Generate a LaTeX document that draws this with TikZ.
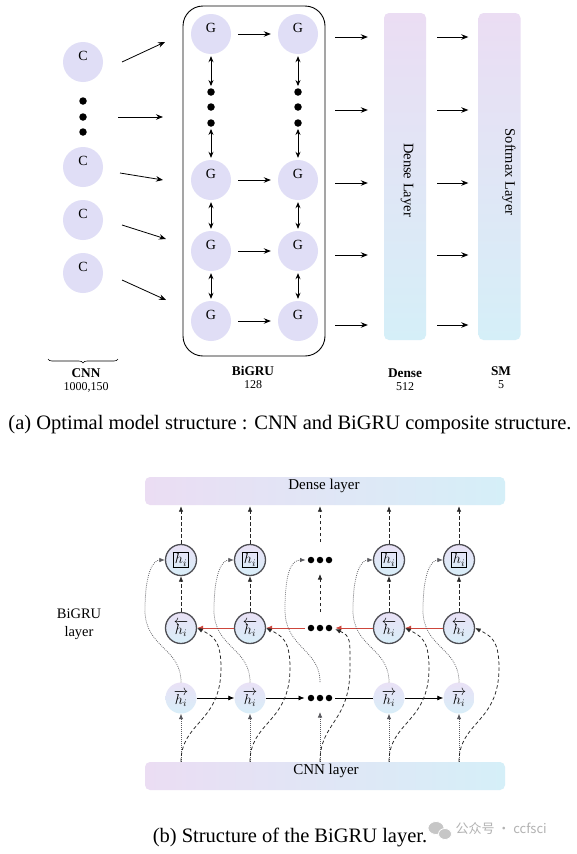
\documentclass[tikz,border=0pt]{standalone}
\usepackage{fontspec}
\setmainfont{Liberation Serif}
\newfontfamily\cjkfont{Noto Sans CJK SC}
\usetikzlibrary{arrows.meta,decorations.pathreplacing,calc}
\definecolor{nodefill}{RGB}{224,222,246}
\definecolor{barTop}{RGB}{235,221,243}
\definecolor{barBot}{RGB}{213,239,248}
\definecolor{nTop}{RGB}{233,225,246}
\definecolor{nBot}{RGB}{216,238,248}
\definecolor{ring}{RGB}{78,78,84}
\definecolor{redline}{RGB}{205,70,60}
\definecolor{curvegray}{RGB}{90,90,95}
\setlength{\fboxsep}{1.2pt}
\setlength{\fboxrule}{1.1pt}
\tikzset{
  cnode/.style={circle, fill=nodefill, minimum size=40pt, inner sep=0pt},
  nlab/.style={yshift=6pt, font=\fontsize{14}{16}\selectfont},
  bigdot/.style={circle, fill=black, minimum size=7.5pt, inner sep=0pt},
  arrA/.style={-{Stealth[length=7pt,width=5.5pt]}, line width=0.8pt},
  darrA/.style={{Stealth[length=6pt,width=5pt]}-{Stealth[length=6pt,width=5pt]}, line width=0.8pt, shorten <=2pt, shorten >=2pt},
  vbar/.style={rounded corners=5pt, top color=barTop, bottom color=barBot, minimum width=42pt, minimum height=327pt, inner sep=0pt},
  hbar/.style={rounded corners=5pt, left color=barTop, right color=barBot, minimum width=360pt, minimum height=28pt, inner sep=0pt},
  boldlab/.style={font=\bfseries\fontsize{13.3}{15}\selectfont},
  numlab/.style={font=\fontsize{12}{14}\selectfont},
  captxt/.style={font=\fontsize{20.5}{24}\selectfont},
  ringnode/.style={circle, draw=ring, line width=1.3pt, top color=nTop, bottom color=nBot, minimum size=31pt, inner sep=0pt, font=\fontsize{14.4}{17}\selectfont},
  fwdnode/.style={circle, top color=nTop, bottom color=nBot, minimum size=31pt, inner sep=0pt, font=\fontsize{14.4}{17}\selectfont},
  smalldot/.style={circle, fill=black, minimum size=6.5pt, inner sep=0pt},
  dashB/.style={-{Latex[length=5.5pt,width=4.5pt]}, dash pattern=on 3.5pt off 2.5pt, line width=0.75pt, draw=black!85},
  dotB/.style={-{Latex[length=5.5pt,width=4.5pt]}, dash pattern=on 0.8pt off 1.2pt, line width=0.75pt, draw=curvegray},
  fwdB/.style={-{Latex[length=6pt,width=5pt]}, line width=0.8pt},
  redB/.style={-{Latex[length=6pt,width=5pt]}, line width=0.8pt, draw=redline},
  bodytxt/.style={font=\fontsize{15}{17}\selectfont}
}
\begin{document}
\begin{tikzpicture}[x=1pt,y=-1pt]
\useasboundingbox (0,0) rectangle (577,854);
\fill[white] (0,0) rectangle (577,854);

% ================= part (a) =================
\node[draw, line width=0.9pt, rounded corners=20pt, minimum width=142pt, minimum height=350pt, inner sep=0pt] (bgru) at (254,181) {};

\foreach \n/\y in {c1/62,c2/167,c3/220,c4/273}
  \node[cnode, label={[nlab]center:C}] (\n) at (83,\y) {};
\foreach \n/\y in {cd1/101,cd2/117,cd3/132}
  \node[bigdot] (\n) at (83,\y) {};

\foreach \c/\x in {1/211,2/298} {
  \foreach \r/\y in {1/34,3/180,4/251,5/321}
    \node[cnode, label={[nlab]center:G}] (g\c\r) at (\x,\y) {};
  \foreach \d/\y in {1/92,2/107,3/123}
    \node[bigdot] (gd\c\d) at (\x,\y) {};
}
\foreach \c in {1,2} {
  \draw[darrA] (g\c1) -- (gd\c1);
  \draw[darrA] (gd\c3) -- (g\c3);
  \draw[darrA] (g\c3) -- (g\c4);
  \draw[darrA] (g\c4) -- (g\c5);
}
\foreach \r in {1,3,4,5}
  \draw[arrA, shorten <=7pt, shorten >=7pt] (g1\r) -- (g2\r);

\node[vbar] (dense) at (405,176.5) {};
\node[vbar] (sm) at (499.5,176.5) {};
\node[rotate=-90, font=\fontsize{14.5}{16}\selectfont] at (407,180) {Dense Layer};
\node[rotate=-90, font=\fontsize{14.5}{16}\selectfont] at (509,172) {Softmax Layer};

\foreach \i/\y in {1/37,2/110,3/183,4/255,5/325} {
  \coordinate (row\i) at (0,\y);
  \draw[arrA, shorten <=10pt, shorten >=16pt] (bgru.east |- row\i) -- (dense.west |- row\i);
  \draw[arrA, shorten <=11pt, shorten >=10pt] (dense.east |- row\i) -- (sm.west |- row\i);
}

\foreach \i/\xa/\ya/\xb/\yb in {1/122/62/165/42, 2/118/117/163/117, 3/120/173/163/180, 4/122/225/166/239, 5/122/280/166/300} {
  \coordinate (cs\i) at (\xa,\ya);
  \coordinate (ce\i) at (\xb,\yb);
  \draw[arrA] (cs\i) -- (ce\i);
}

\coordinate (brL) at (48,359);
\coordinate (brR) at (118,359);
\draw[decorate, decoration={brace, mirror, amplitude=4pt}, line width=0.6pt] (brL) -- (brR);

\node[boldlab] (lcnn) at (86,373) {CNN};
\node[numlab] (ncnn) at (86,387) {1000,150};
\node[boldlab] (lbig) at (253,371) {BiGRU};
\node[numlab] (nbig) at (253,385) {128};
\node[boldlab] (lden) at (405,373) {Dense};
\node[numlab] (nden) at (405,387) {512};
\node[boldlab] (lsm) at (501,371) {SM};
\node[numlab] (nsm) at (501,385) {5};

\node[captxt] (capa) at (290,425) {(a) Optimal model structure : CNN and BiGRU composite structure.};

% ================= part (b) =================
\node[hbar] (dl) at (325,491) {};
\node[bodytxt] (dltxt) at (324,486) {Dense layer};
\node[hbar] (cl) at (325,776) {};
\node[bodytxt] (cltxt) at (326,771) {CNN layer};
\node[align=center, font=\fontsize{14.5}{18}\selectfont] (bglab) at (79,624) {BiGRU\\layer};

\foreach \i/\x in {1/181,2/250,4/389,5/459} {
  \node[ringnode] (t\i) at (\x,560) {\fbox{$h_i$}};
  \node[ringnode] (m\i) at (\x,628) {$\overleftarrow{h_i}$};
  \node[fwdnode] (f\i) at (\x,698) {$\overrightarrow{h_i}$};
}
\foreach \r/\y in {t/560,m/628,f/698} {
  \node[smalldot] (\r3a) at (311,\y) {};
  \node[smalldot] (\r3b) at (320,\y) {};
  \node[smalldot] (\r3c) at (329,\y) {};
}
\coordinate (t3up) at (320,542);
\coordinate (t3low) at (320,574);
\coordinate (m3up) at (320,612);
\coordinate (f3top) at (320,682);
\coordinate (f3low) at (320,712);

% to dense layer
\foreach \i in {1,2,4,5}
  \draw[dashB, shorten >=1pt] (t\i) -- (t\i |- dl.south);
\draw[dashB, shorten >=1pt] (t3up) -- (t3up |- dl.south);
% mid to top
\foreach \i in {1,2,4,5}
  \draw[dashB] (m\i) -- (t\i);
\draw[dashB] (m3up) -- (t3low);
% backward (red)
\draw[redB] (m5) -- (m4);
\draw[redB, shorten >=3pt] (m4) -- (m3c);
\draw[redB, shorten <=3pt] (m3a) -- (m2);
\draw[redB] (m2) -- (m1);
% forward
\draw[fwdB] (f1) -- (f2);
\draw[fwdB, shorten >=3pt] (f2) -- (f3a);
\draw[line width=0.8pt, shorten <=3pt] (f3c) -- (f4);
\draw[fwdB] (f4) -- (f5);

% CNN to forward nodes, and curves
\foreach \i in {1,2,4,5} {
  \draw[dotB] (f\i |- cl.north) -- (f\i);
  \draw[dashB] (f\i |- cl.north) .. controls ($(f\i |- cl.north)+(0,-40)$) and ($(f\i)+(40,25)$) .. ($(f\i)+(40,-30)$) .. controls ($(f\i)+(40,-58)$) and ($(m\i)+(32,8)$) .. (m\i.east);
  \draw[dotB] (f\i.north) .. controls ($(f\i.north)+(0,-35)$) and ($(f\i)+(-36,-50)$) .. ($(f\i)+(-36,-88)$) .. controls ($(f\i)+(-36,-125)$) and ($(t\i)+(-28,0)$) .. (t\i.west);
}
\draw[dotB] (f3low |- cl.north) -- (f3low);
\draw[dashB, shorten >=3pt] (f3low |- cl.north) .. controls ($(f3low |- cl.north)+(0,-40)$) and ($(f3b)+(30,25)$) .. ($(f3b)+(30,-30)$) .. controls ($(f3b)+(30,-58)$) and ($(m3c)+(22,8)$) .. (m3c.east);
\draw[dotB, shorten >=2pt] (f3top) .. controls ($(f3top)+(0,-33)$) and ($(f3b)+(-35,-50)$) .. ($(f3b)+(-35,-88)$) .. controls ($(f3b)+(-35,-125)$) and ($(t3a)+(-20,0)$) .. (t3a.west);

\node[captxt] (capb) at (290,837) {(b) Structure of the BiGRU layer.};

% watermark
\fill[gray!45, draw=white, line width=0.8pt] (436,828) ellipse [x radius=8pt, y radius=6.5pt];
\fill[gray!45, draw=white, line width=0.8pt] (445,834) ellipse [x radius=6.5pt, y radius=5.5pt];
\node[anchor=west, text=gray!60, font=\cjkfont\fontsize{13}{15}\selectfont] (wm) at (452,829) {公众号 · ccfsci};
\end{tikzpicture}
\end{document}
